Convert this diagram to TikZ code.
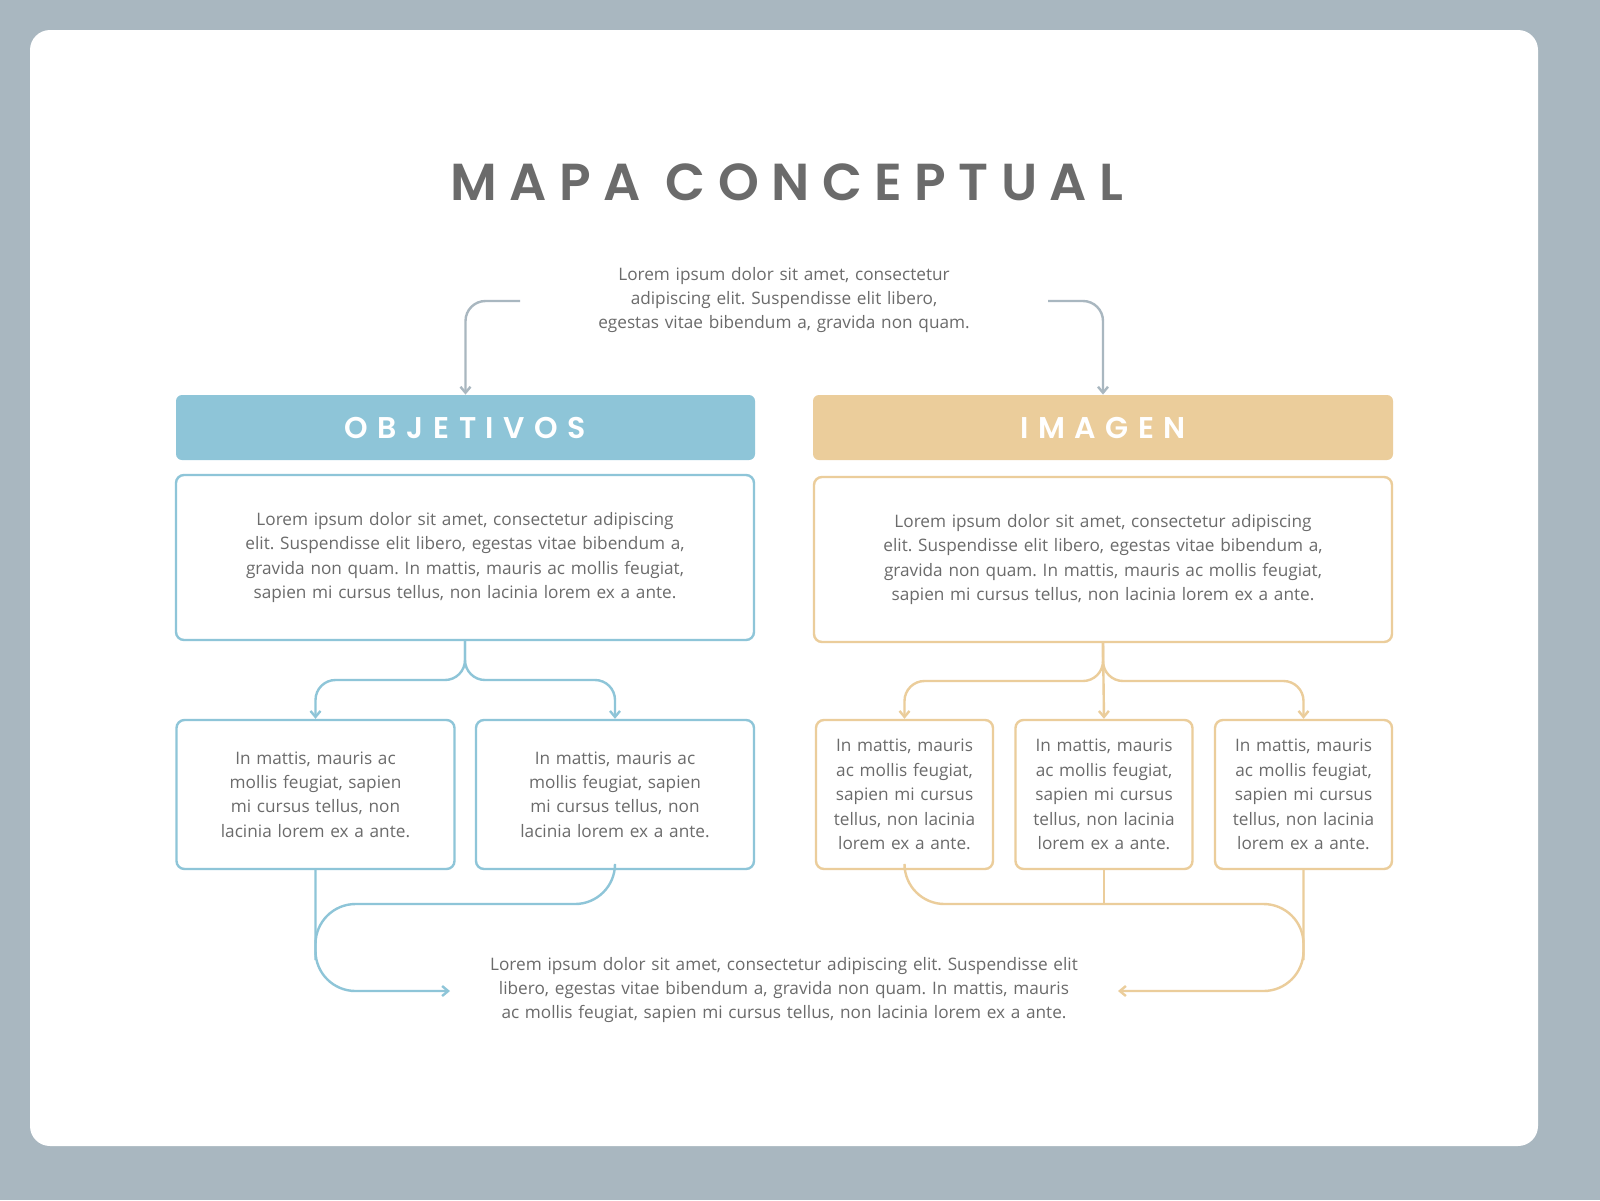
\documentclass[tikz,border=0pt]{standalone}
\usepackage{fontspec}
\setmainfont{Open Sans}
\newfontfamily\titlefont[LetterSpace=24]{Poppins SemiBold}
\newfontfamily\headfont[LetterSpace=32]{Poppins SemiBold}
\usetikzlibrary{positioning,arrows.meta}
\definecolor{frame}{HTML}{A9B7C0}
\definecolor{ink}{HTML}{6B6B6B}
\definecolor{sky}{HTML}{8EC5D8}
\definecolor{sand}{HTML}{EBCD9B}
\hyphenpenalty=10000
\exhyphenpenalty=10000
\frenchspacing
\tikzset{
  txt/.style={text=ink,font=\fontsize{8.6}{12.2}\selectfont,align=center},
  box/.style={txt,draw=#1,line width=1.2pt,rounded corners=4pt,inner sep=0pt},
  head/.style={fill=#1,rounded corners=3pt,text=white,font=\headfont\fontsize{15}{16}\selectfont,inner sep=0pt},
  link/.style={draw=#1,line width=1.2pt,rounded corners=10pt},
  tip/.style={-{Straight Barb[length=3pt,width=5pt]}}
}
\begin{document}
\begin{tikzpicture}[x=0.5pt,y=-0.5pt]
\useasboundingbox (0,0) rectangle (1600,1200);
\fill[frame] (0,0) rectangle (1600,1200);
\fill[white,rounded corners=10pt] (30,30) rectangle (1538,1146);
\node[text=ink,font=\titlefont\fontsize{26}{26}\selectfont] (title) at (787,182) {MAPA CONCEPTUAL};
\node[txt,text width=245pt] (intro) at (784,300) {Lorem ipsum dolor sit amet, consectetur adipiscing elit. Suspendisse elit libero, egestas vitae bibendum a, gravida non quam.};
% headers
\node[head=sky,minimum width=289.5pt,minimum height=32.5pt] (obj) at (465.5,427.5) {OBJETIVOS};
\node[head=sand,minimum width=290pt,minimum height=32.5pt] (img) at (1103,427.5) {IMAGEN};
\coordinate (il) at (520,301);
\coordinate (ir) at (1048,301);
\draw[link=frame,tip] (il) -| (obj.north);
\draw[link=frame,tip] (ir) -| (img.north);
% main boxes
\node[box=sky,minimum width=289pt,minimum height=82.5pt,text width=272pt] (objm) at (465,557.5) {Lorem ipsum dolor sit amet, consectetur adipiscing elit. Suspendisse elit libero, egestas vitae bibendum a, gravida non quam. In mattis, mauris ac mollis feugiat, sapien mi cursus tellus, non lacinia lorem ex a ante.};
\node[box=sand,minimum width=289pt,minimum height=82.5pt,text width=272pt] (imgm) at (1103,559.5) {Lorem ipsum dolor sit amet, consectetur adipiscing elit. Suspendisse elit libero, egestas vitae bibendum a, gravida non quam. In mattis, mauris ac mollis feugiat, sapien mi cursus tellus, non lacinia lorem ex a ante.};
% small boxes
\foreach \n/\x in {oa/315.5,ob/615}
  \node[box=sky,minimum width=139pt,minimum height=74.5pt,text width=126pt] (\n) at (\x,794.5) {In mattis, mauris ac mollis feugiat, sapien mi cursus tellus, non lacinia lorem ex a ante.};
\foreach \n/\x in {ia/904.5,ib/1104,ic/1303.5}
  \node[box=sand,minimum width=88.5pt,minimum height=74.5pt,text width=80pt] (\n) at (\x,794.5) {In mattis, mauris ac mollis feugiat, sapien mi cursus tellus, non lacinia lorem ex a ante.};
\coordinate (os) at (465,680);
\coordinate (is) at (1103,681);
\draw[link=sky,tip] (objm.south) -- (os) -| (oa.north);
\draw[link=sky,tip] (objm.south) -- (os) -| (ob.north);
\draw[link=sand,tip] (imgm.south) -- (is) -| (ia.north);
\draw[link=sand,tip] (imgm.south) -- (ib.north);
\draw[link=sand,tip] (imgm.south) -- (is) -| (ic.north);
% bottom
\node[txt,text width=320pt] (outro) at (784,990) {Lorem ipsum dolor sit amet, consectetur adipiscing elit. Suspendisse elit libero, egestas vitae bibendum a, gravida non quam. In mattis, mauris ac mollis feugiat, sapien mi cursus tellus, non lacinia lorem ex a ante.};
\coordinate (ol) at (450,991);
\coordinate (or) at (1118,991);
\draw[link=sky,rounded corners=20pt,tip] (oa.south) |- (ol);
\draw[link=sky,rounded corners=20pt] (ob.south) |- (315.5,904) -- (315.5,960);
\draw[link=sand,rounded corners=20pt,tip] (ic.south) |- (or);
\draw[link=sand,rounded corners=20pt] (ia.south) |- (1303.5,904) -- (1303.5,960);
\draw[link=sand] (ib.south) -- (1104,904);
\end{tikzpicture}
\end{document}
